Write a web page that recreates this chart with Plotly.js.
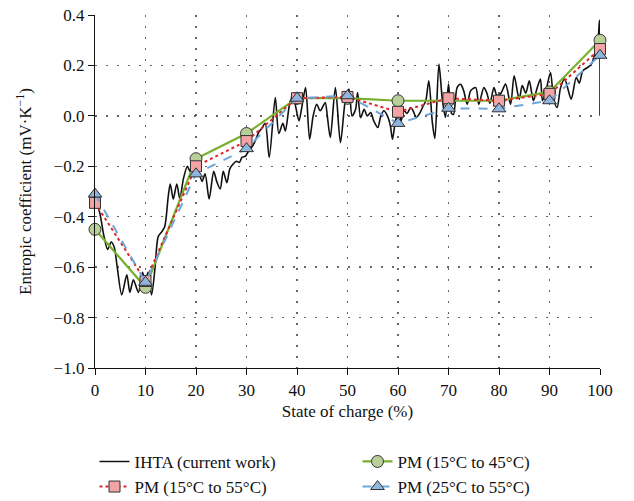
<!DOCTYPE html>
<html>
<head>
<meta charset="utf-8">
<script src="https://cdn.plot.ly/plotly-3.0.1.min.js"></script>
<style>html,body{margin:0;padding:0;background:#fff}#chart{width:634px;height:501px}</style>
</head>
<body>
<div id="chart"></div>
<script>
// IHTA (current work) measured curve
const ihtaSoc = [0.2,1.0,1.8,2.5,3.2,3.8,4.4,5.3,6.3,6.9,7.6,8.6,9.4,10.0,10.5,11.2,11.9,12.5,13.2,13.8,14.5,14.9,15.5,16.2,16.8,17.5,18.3,18.8,19.3,20.0,20.5,21.2,21.8,22.6,23.5,24.1,24.8,25.4,26.1,26.7,27.4,28.0,28.6,29.1,29.8,30.4,31.0,31.7,32.4,33.0,33.7,34.5,35.7,36.4,37.2,37.7,38.7,39.3,39.8,40.4,41.0,41.7,42.5,43.2,43.9,44.6,45.2,45.6,46.0,46.6,47.6,48.6,49.6,50.3,50.9,51.6,52.0,52.6,53.3,53.9,54.6,55.2,56.0,56.6,57.2,57.9,58.5,58.9,59.5,60.2,60.6,61.2,61.8,62.5,63.0,63.6,64.3,65.0,65.5,66.1,66.8,67.3,68.1,68.8,69.4,70.0,70.6,71.0,71.7,72.4,73.0,73.7,74.4,75.4,76.0,77.0,77.6,78.2,79.0,79.6,80.4,81.3,82.3,83.0,84.0,84.6,85.3,86.0,86.8,87.4,88.2,88.6,89.3,90.2,90.8,91.5,92.2,93.0,93.6,94.3,95.3,95.9,96.6,97.4,98.3,99.0,99.6,99.9,100.0];
const ihtaVal = [-0.33,-0.39,-0.48,-0.53,-0.50,-0.52,-0.60,-0.71,-0.63,-0.70,-0.65,-0.70,-0.62,-0.66,-0.62,-0.71,-0.60,-0.48,-0.46,-0.44,-0.32,-0.27,-0.33,-0.27,-0.33,-0.25,-0.20,-0.22,-0.18,-0.20,-0.22,-0.26,-0.23,-0.33,-0.22,-0.26,-0.29,-0.22,-0.265,-0.21,-0.19,-0.18,-0.185,-0.165,-0.16,-0.14,-0.126,-0.10,-0.066,-0.05,-0.03,-0.165,0.073,-0.07,-0.03,-0.06,0.06,0.07,0.03,-0.02,0.04,0.112,-0.093,0.0,0.046,0.02,0.04,0.053,0.0,-0.086,0.112,-0.106,0.066,0.106,0.0,0.026,0.092,-0.007,0.026,0.0,0.013,-0.02,-0.046,0.0,0.02,0.0,-0.04,-0.093,-0.02,0.03,-0.02,0.02,0.01,0.033,0.02,-0.006,0.01,0.04,0.06,0.139,-0.026,-0.09,0.205,0.06,-0.006,0.126,0.01,0.006,0.112,0.125,0.10,0.046,0.10,0.112,0.046,0.112,0.09,0.05,0.112,0.08,0.09,0.126,0.046,0.159,0.066,0.12,0.09,0.139,0.06,0.10,0.146,0.06,0.10,0.172,0.07,0.033,0.112,0.146,0.11,0.066,0.152,0.13,0.179,0.19,0.205,0.25,0.30,0.38,0.0];

// Potentiometric method (PM) points
const pmSoc = [0,10,20,30,40,50,60,70,80,90,100];
const pm15to45 = [-0.45,-0.68,-0.17,-0.07,0.07,0.07,0.06,0.06,0.06,0.095,0.30];
const pm15to55 = [-0.345,-0.655,-0.20,-0.10,0.07,0.075,0.016,0.07,0.06,0.087,0.265];
const pm25to55 = [-0.31,-0.66,-0.23,-0.13,0.07,0.08,-0.03,0.03,0.028,0.06,0.24];

const xTicks = [0,10,20,30,40,50,60,70,80,90,100];
const yTicks = [0.4,0.2,0.0,-0.2,-0.4,-0.6,-0.8,-1.0];

const FONT = 'Liberation Serif, Times New Roman, serif';

const traces = [
  {x: ihtaSoc, y: ihtaVal, name: 'IHTA (current work)', mode: 'lines',
   line: {color: '#111', width: 1.6, shape: 'spline', smoothing: 0.8}},
  {x: pmSoc, y: pm15to45, name: 'PM (15°C to 45°C)', mode: 'lines+markers', cliponaxis: false,
   line: {color: '#76b02c', width: 2.2},
   marker: {symbol: 'circle', size: 12, color: '#b8cf97', line: {color: '#333', width: 1}}},
  {x: pmSoc, y: pm15to55, name: 'PM (15°C to 55°C)', mode: 'lines+markers', cliponaxis: false,
   line: {color: '#e3262a', width: 2, dash: 'dot'},
   marker: {symbol: 'square', size: 11, color: '#f2a3a3', line: {color: '#333', width: 1}}},
  {x: pmSoc, y: pm25to55, name: 'PM (25°C to 55°C)', mode: 'lines+markers', cliponaxis: false,
   line: {color: '#6ca6dc', width: 2, dash: 'dash'},
   marker: {symbol: 'triangle-up', size: 12, color: '#8fb5df', line: {color: '#333', width: 1}}}
];

const layout = {
  width: 634, height: 501,
  margin: {l: 95, r: 34, t: 15, b: 133, autoexpand: false},
  paper_bgcolor: '#fff', plot_bgcolor: '#fff',
  font: {family: FONT, size: 17, color: '#111'},
  showlegend: true,
  legend: {orientation: 'h', x: -0.001, xanchor: 'left', y: -0.215, yanchor: 'top',
           entrywidth: 218, font: {family: FONT, size: 17}, tracegroupgap: 0},
  xaxis: {range: [0, 100], tickvals: xTicks, ticktext: xTicks.map(String),
          showline: true, linecolor: '#111', linewidth: 1.2, ticks: 'outside', ticklen: 6, tickcolor: '#111',
          showgrid: true, gridcolor: '#666', griddash: '2px,9px', gridwidth: 1.5, zeroline: false,
          tickfont: {size: 17}, automargin: false,
          title: {text: 'State of charge (%)', font: {family: FONT, size: 17}, standoff: 6}},
  yaxis: {range: [-1.0, 0.4], tickvals: yTicks, tickformat: '.1f',
          showline: true, linecolor: '#111', linewidth: 1.2, ticks: 'outside', ticklen: 6, tickcolor: '#111',
          showgrid: true, gridcolor: '#666', griddash: '2px,9px', gridwidth: 1.5, zeroline: false,
          tickfont: {size: 17}, automargin: false,
          title: {text: 'Entropic coefficient (mV·K<sup>−1</sup>)', font: {family: FONT, size: 17}, standoff: 17}}
};

Plotly.newPlot('chart', traces, layout, {displayModeBar: false, staticPlot: true});
</script>
</body>
</html>
